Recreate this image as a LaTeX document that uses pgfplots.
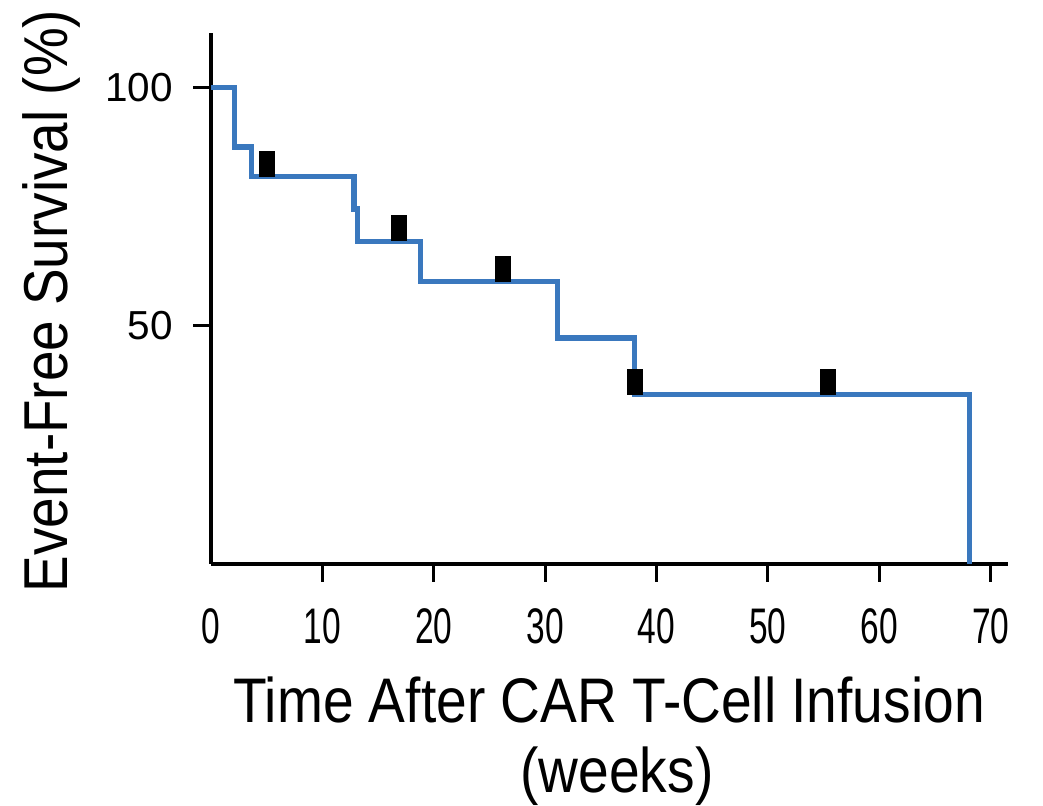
\documentclass[border=0pt]{standalone}
\usepackage{fontspec}
\setmainfont{Liberation Sans}
\newfontfamily\labfont{Liberation Sans}[FakeStretch=0.875]
\newfontfamily\ylabfont{Liberation Sans}[FakeStretch=0.885]
\newfontfamily\xtfont{Liberation Sans}[FakeStretch=0.67]
\usepackage{pgfplots}
\pgfplotsset{compat=1.18}
\definecolor{kmblue}{RGB}{58,120,190}
\pgfdeclareplotmark{cens}{\pgfpathrectangle{\pgfpoint{-4pt}{0pt}}{\pgfpoint{8pt}{13pt}}\pgfusepathqfill}
\begin{document}
\begin{tikzpicture}
\path[use as bounding box] (-105.5pt,-121pt) rectangle (416pt,282pt);
\begin{axis}[
  scale only axis, width=398.5pt, height=265.5pt,
  xmin=0, xmax=71.55, ymin=0, ymax=111.4,
  axis x line*=bottom, axis y line*=left,
  axis line style={line width=2pt, -},
  tick align=outside,
  major tick length=8.8pt,
  every tick/.style={black, line width=1.5pt},
  xtick={10,20,...,70}, extra x ticks={0},
  extra x tick style={major tick length=0pt, xticklabel style={yshift=-8.8pt}},
  ytick={50,100},
  /pgf/number format/assume math mode=true,
  xticklabel style={font=\fontsize{25}{25}\xtfont, inner sep=0pt, anchor=north, yshift=-13.4pt},
  yticklabel style={font=\fontsize{20.25}{20.25}\selectfont, inner sep=0pt, anchor=east, xshift=-10pt},
  clip=false,
]
\addplot[const plot, kmblue, line width=2.7pt, line join=miter] coordinates {
  (0,100) (2.09,87.5) (3.65,81.25) (12.84,74.48) (13.13,67.71) (18.8,59.24)
  (31.1,47.40) (38.0,35.55) (68.1,35.55) (68.1,0)
};
\addplot[only marks, mark=cens, black] coordinates {
  (5.03,81.25) (16.9,67.71) (26.2,59.24) (38.1,35.55) (55.4,35.55)
};
\end{axis}
\node[anchor=base, font=\fontsize{31.5}{35}\labfont] at (199pt,-79.35pt) {Time After CAR T-Cell Infusion};
\node[anchor=base, font=\fontsize{31.5}{35}\labfont] at (203pt,-114.35pt) {(weeks)};
\node[anchor=base, rotate=90, font=\fontsize{31}{35}\ylabfont] at (-71.65pt,131.5pt) {Event-Free Survival (\%)};
\end{tikzpicture}
\end{document}
